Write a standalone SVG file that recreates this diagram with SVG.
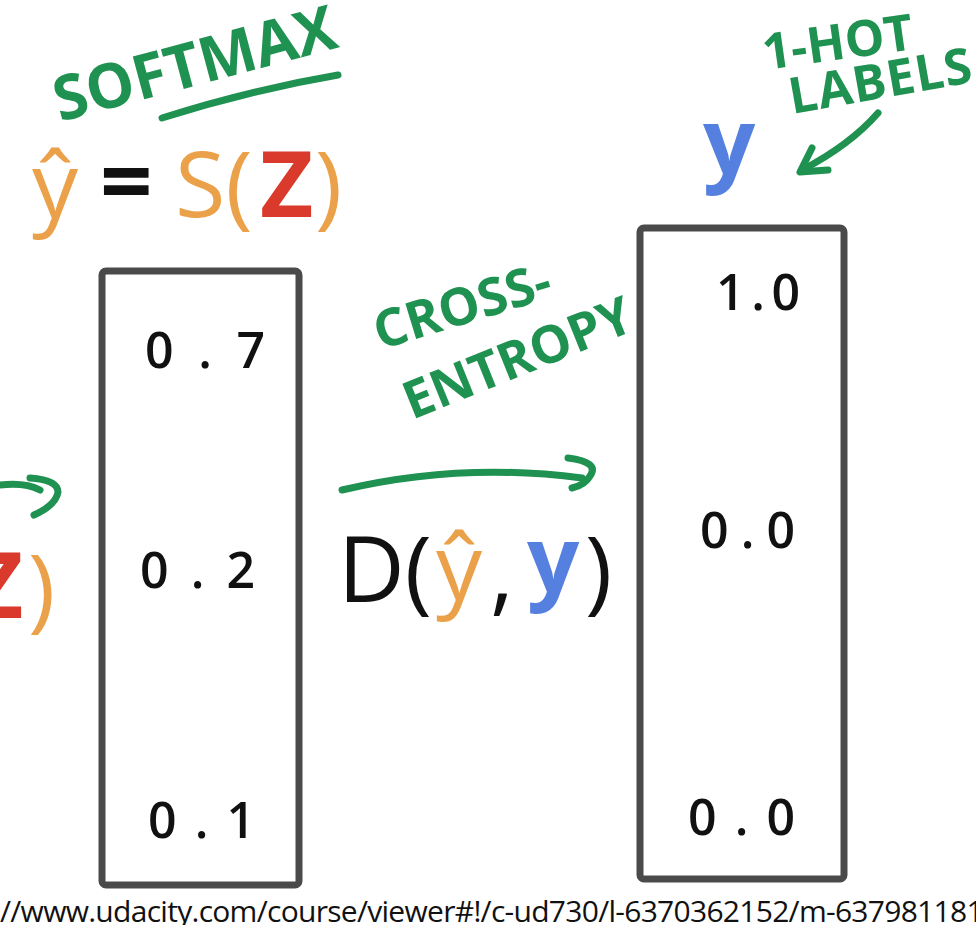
<svg xmlns="http://www.w3.org/2000/svg" width="976" height="925" viewBox="0 0 976 925">
<style>
.box{fill:none;stroke:#4a4a4a;stroke-width:7;}
.num{font-family:"Open Sans","DejaVu Sans",sans-serif;font-size:50px;font-weight:600;fill:#111;}
.green{font-family:"Open Sans","DejaVu Sans",sans-serif;font-weight:bold;fill:#1f9150;}
.gl{fill:none;stroke:#1f9150;stroke-width:7;stroke-linecap:round;stroke-linejoin:round;}
.math{font-family:"Open Sans","DejaVu Sans",sans-serif;font-size:92px;}
.or{fill:#eba14a;}
.rd{fill:#d93a2b;}
.bl{fill:#5580e0;}
.bk{fill:#111;}
</style>
<rect width="976" height="925" fill="#fff"/>
<g id="connectors">
  <path class="gl" d="M162 118 Q250 90 338 75"/>
  <path class="gl" d="M878 113 Q850 145 802 170"/>
  <path class="gl" d="M812 148 L800 172 L828 170"/>
  <path class="gl" d="M342 490 Q460 462 582 478"/>
  <path class="gl" d="M568 458 Q600 462 590 476 Q585 485 572 488"/>
  <path class="gl" d="M0 485 Q25 482 40 490"/>
  <path class="gl" d="M30 478 Q58 480 58 492 Q56 505 34 515"/>
</g>
<g id="softmax-label">
  <text class="green" font-size="62" textLength="290" lengthAdjust="spacingAndGlyphs" transform="translate(60 122) rotate(-15)">SOFTMAX</text>
</g>
<g id="formula">
  <text class="math or" x="32" y="218">ŷ</text>
  <text class="math bk" x="100" y="214" font-weight="bold">=</text>
  <text class="math or" x="175" y="217">S(</text>
  <text class="math rd" x="260" y="217" font-weight="bold">Z</text>
  <text class="math or" x="315" y="217">)</text>
</g>
<g id="left-partial">
  <text class="math rd" x="-30" y="618" font-weight="bold">Z</text>
  <text class="math or" x="28" y="620">)</text>
</g>
<g id="softmax-box">
  <rect class="box" x="102" y="271" width="197" height="614" rx="4"/>
  <text class="num" x="145" y="368" textLength="120">0.7</text>
  <text class="num" x="140" y="588" textLength="115">0.2</text>
  <text class="num" x="148" y="838" textLength="107">0.1</text>
</g>
<g id="cross-entropy-label">
  <text class="green" font-size="52" transform="translate(380 350) rotate(-17)">CROSS-</text>
  <text class="green" font-size="52" transform="translate(412 420) rotate(-22)">ENTROPY</text>
</g>
<g id="distance">
  <text class="math bk" x="338" y="602">D(</text>
  <text class="math or" x="436" y="600">ŷ</text>
  <text class="math bk" x="490" y="604">,</text>
  <text class="math bl" x="527" y="592" font-weight="bold">y</text>
  <text class="math bk" x="585" y="602">)</text>
</g>
<g id="y-label">
  <text class="math bl" x="703" y="174" font-weight="bold">y</text>
</g>
<g id="onehot-label">
  <text class="green" font-size="50" transform="translate(765 70) rotate(-8)">1-HOT</text>
  <text class="green" font-size="50" textLength="185" transform="translate(792 114) rotate(-10)">LABELS</text>
</g>
<g id="onehot-box">
  <rect class="box" x="640" y="228" width="204" height="651" rx="4"/>
  <text class="num" x="716" y="310" textLength="84">1.0</text>
  <text class="num" x="700" y="548" textLength="95">0.0</text>
  <text class="num" x="688" y="835" textLength="107">0.0</text>
</g>
<g id="footer">
  <text x="0" y="922" font-family="Open Sans, DejaVu Sans, sans-serif" font-size="30" fill="#111" textLength="1000">//www.udacity.com/course/viewer#!/c-ud730/l-6370362152/m-6379811817</text>
</g>
</svg>
